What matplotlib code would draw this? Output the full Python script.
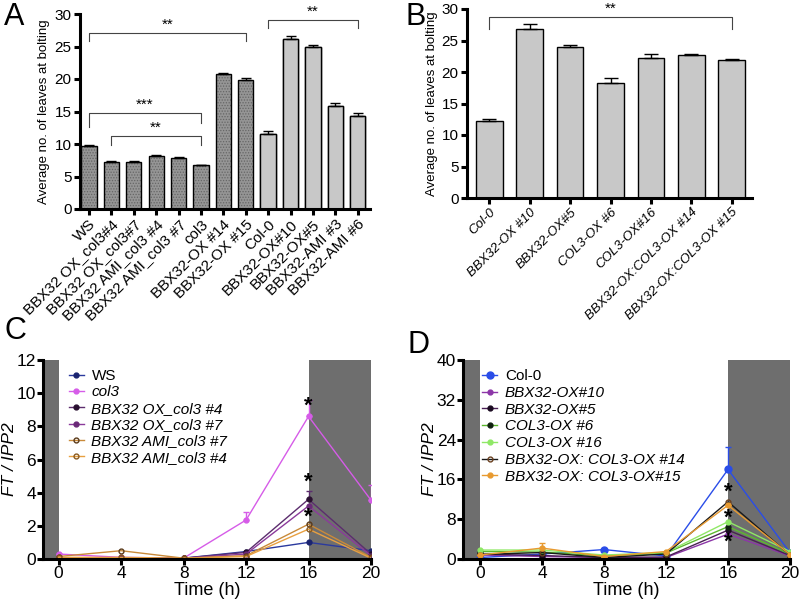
import numpy as np
import matplotlib
matplotlib.use("Agg")
import matplotlib.pyplot as plt

plt.rcParams['font.family'] = ['Liberation Sans', 'DejaVu Sans']
plt.rcParams['hatch.linewidth'] = 0.6

# ---- panel A data ----
a_labels = ['WS', 'BBX32 OX_col3#4', 'BBX32 OX_col3#7', 'BBX32 AMI_col3 #4',
            'BBX32 AMI_col3 #7', 'col3', 'BBX32-OX #14', 'BBX32-OX #15',
            'Col-0', 'BBX32-OX#10', 'BBX32-OX#5', 'BBX32-AMI #3', 'BBX32-AMI #6']
a_vals = [9.7, 7.2, 7.3, 8.1, 7.8, 6.7, 20.7, 19.9, 11.6, 26.2, 24.9, 15.8, 14.3]
a_err = [0.1, 0.2, 0.1, 0.2, 0.2, 0.1, 0.2, 0.2, 0.4, 0.4, 0.3, 0.5, 0.5]
a_dark = 8  # first 8 bars are WS background

# ---- panel B data ----
b_labels = ['Col-0', 'BBX32-OX #10', 'BBX32-OX#5', 'COL3-OX #6', 'COL3-OX#16',
            'BBX32-OX:COL3-OX #14', 'BBX32-OX:COL3-OX #15']
b_vals = [12.2, 26.8, 23.9, 18.3, 22.3, 22.7, 21.9]
b_err = [0.4, 0.8, 0.4, 0.8, 0.6, 0.2, 0.2]

# ---- panel C data ----
hours = [0, 4, 8, 12, 16, 20]
c_names = ['WS', 'col3', 'BBX32 OX_col3 #4', 'BBX32 OX_col3 #7',
           'BBX32 AMI_col3 #7', 'BBX32 AMI_col3 #4']
c_ws = [0.05, 0.05, 0.05, 0.45, 1.0, 0.5]
c_col3 = [0.3, 0.1, 0.05, 2.35, 8.6, 3.55]
c_ox4 = [0.05, 0.05, 0.05, 0.4, 3.6, 0.3]
c_ox7 = [0.05, 0.05, 0.05, 0.3, 3.2, 0.2]
c_ami7 = [0.15, 0.5, 0.05, 0.2, 2.1, 0.1]
c_ami4 = [0.1, 0.1, 0.05, 0.15, 1.8, 0.05]
c_col3_err = [0.0, 0.0, 0.0, 0.5, 1.0, 0.9]
c_ox4_err = [0.0, 0.0, 0.0, 0.0, 0.5, 0.0]
c_stars = [9.2, 4.6, 2.5]

# ---- panel D data ----
d_names = ['Col-0', 'BBX32-OX#10', 'BBX32-OX#5', 'COL3-OX #6', 'COL3-OX #16',
           'BBX32-OX: COL3-OX #14', 'BBX32-OX: COL3-OX#15']
d_col0 = [0.3, 1.0, 1.9, 0.6, 18.0, 1.3]
d_ox10 = [0.8, 0.5, 0.3, 0.3, 5.0, 0.6]
d_ox5 = [1.0, 0.7, 0.3, 0.4, 5.8, 0.7]
d_col6 = [1.5, 1.4, 0.6, 1.2, 6.5, 1.0]
d_col16 = [1.8, 1.8, 0.8, 1.3, 7.5, 1.5]
d_x14 = [0.9, 1.3, 0.3, 1.0, 11.5, 0.8]
d_x15 = [0.8, 2.2, 0.5, 1.5, 10.8, 0.9]
d_col0_err = [0, 0, 0, 0, 4.5, 0]
d_x15_err = [0, 1.1, 0, 0, 0, 0]
d_stars = [13.4, 8.2, 3.4]

fig = plt.figure(figsize=(8.02, 6.07), dpi=100)


def style_axes(ax, lw=2.0):
    for s in ['top', 'right']:
        ax.spines[s].set_visible(False)
    for s in ['left', 'bottom']:
        ax.spines[s].set_linewidth(lw)
    ax.tick_params(width=lw, length=4, direction='out', pad=2)


def bracket(ax, x0, x1, y, h0, h1, text, fs=11):
    ax.plot([x0, x0, x1, x1], [y - h0, y, y, y - h1], color='#444444', lw=0.8)
    ax.text((x0 + x1) / 2, y + 0.2, text, ha='center', va='bottom', fontsize=fs)


# ================= A =================
axA = fig.add_axes([80 / 802, 1 - 209 / 607, 290 / 802, 195 / 607])
xa = np.arange(len(a_vals))
axA.bar(xa[:a_dark], a_vals[:a_dark], width=0.68, color='#959595',
        edgecolor='#666666', hatch='......', linewidth=0)
axA.bar(xa, a_vals, width=0.68, color='none', edgecolor='black', linewidth=1.0)
axA.bar(xa[a_dark:], a_vals[a_dark:], width=0.68, color='#c8c8c8',
        edgecolor='black', linewidth=1.0)
axA.errorbar(xa, a_vals, yerr=[np.zeros(len(a_err)), a_err], fmt='none',
             ecolor='black', elinewidth=1, capsize=3.5, capthick=1)
axA.set_xlim(-0.4, 12.55)
axA.set_ylim(0, 30)
axA.set_yticks(range(0, 31, 5))
axA.set_xticks(xa)
axA.set_xticklabels(a_labels, rotation=45, ha='right', rotation_mode='anchor',
                    fontsize=11)
axA.tick_params(axis='y', labelsize=11)
axA.set_ylabel('Average no. of leaves at bolting', fontsize=9.5, labelpad=3)
style_axes(axA, 2.2)
bracket(axA, 0, 7, 27.1, 1.3, 1.3, '**')
bracket(axA, 8, 12, 29.1, 1.3, 1.3, '**')
bracket(axA, 0, 5, 14.8, 2.2, 1.6, '***')
bracket(axA, 1, 5, 11.2, 1.3, 1.3, '**')

# ================= B =================
axB = fig.add_axes([467 / 802, 1 - 198 / 607, 285 / 802, 189 / 607])
xb = np.arange(len(b_vals))
axB.bar(xb, b_vals, width=0.66, color='#c8c8c8', edgecolor='black', linewidth=1.0)
axB.errorbar(xb, b_vals, yerr=[np.zeros(len(b_err)), b_err], fmt='none',
             ecolor='black', elinewidth=1, capsize=5, capthick=1)
axB.set_xlim(-0.55, 6.5)
axB.set_ylim(0, 30)
axB.set_yticks(range(0, 31, 5))
axB.set_xticks(xb)
axB.set_xticklabels(b_labels, rotation=45, ha='right', rotation_mode='anchor',
                    fontsize=9.5, style='italic')
axB.tick_params(axis='y', labelsize=11)
axB.set_ylabel('Average no. of leaves at bolting', fontsize=9.5, labelpad=3)
style_axes(axB, 2.2)
bracket(axB, 0, 6, 28.7, 1.8, 1.8, '**')


# ================= C / D =================
def line_panel(ax, ymax, step, xmin):
    ax.axvspan(-1.5, 0, color='#6e6e6e', lw=0, zorder=0)
    ax.axvspan(16, 20, color='#6e6e6e', lw=0, zorder=0)
    ax.set_xlim(xmin, 20)
    ax.set_ylim(0, ymax)
    ax.set_xticks(hours)
    ax.set_yticks(np.arange(0, ymax + 1, step))
    style_axes(ax, 2.2)
    ax.tick_params(labelsize=12.5, pad=1)
    ax.set_xlabel('Time (h)', fontsize=13, labelpad=1)
    ax.set_ylabel('FT / IPP2', fontsize=12.5, style='italic', labelpad=0)


axC = fig.add_axes([43 / 802, 1 - 559 / 607, 328 / 802, 199 / 607])
line_panel(axC, 12, 2, -1.0)
c_series = [
    (c_ws, '#2b3a9e', '#1a2470', None),
    (c_col3, '#d65ce8', '#d65ce8', c_col3_err),
    (c_ox4, '#5c2d6e', '#2a1030', c_ox4_err),
    (c_ox7, '#8b3a9b', '#6a2a78', None),
    (c_ami7, '#c98a3a', '#5a3a1a', None),
    (c_ami4, '#e8a040', '#8a5a20', None),
]
handles = []
for (vals, lc, mc, err), name in zip(c_series, c_names):
    if err is not None:
        axC.errorbar(hours, vals, yerr=[np.zeros(6), err], fmt='none',
                     ecolor=lc, capsize=2.5, elinewidth=1.0)
    h, = axC.plot(hours, vals, color=lc, lw=1.0, marker='o', ms=3.5,
                  mfc='none' if 'AMI' in name else mc, mec=mc, mew=1.0,
                  label=name)
    handles.append(h)
legC = axC.legend(handles=handles, loc='upper left', bbox_to_anchor=(0.05, 1.0),
                  frameon=False, fontsize=11, handlelength=1.0,
                  handletextpad=0.5, labelspacing=0.15, borderaxespad=0.2)
for t in legC.get_texts()[1:]:
    t.set_style('italic')
for y in c_stars:
    axC.text(16, y, '*', ha='center', va='center', fontsize=16, fontweight='bold')

axD = fig.add_axes([463 / 802, 1 - 559 / 607, 327 / 802, 199 / 607])
line_panel(axD, 40, 8, -1.1)
d_series = [
    (d_col0, '#2a4de8', '#2a4de8', d_col0_err, 5),
    (d_ox10, '#8c36a8', '#8c36a8', None, 3.5),
    (d_ox5, '#4a1f55', '#1a0a20', None, 3.5),
    (d_col6, '#5cb82e', '#102010', None, 3.5),
    (d_col16, '#8fe866', '#8fe866', None, 3.5),
    (d_x14, '#1a1a1a', '#6a4020', None, 3.5),
    (d_x15, '#e89a30', '#e89a30', d_x15_err, 3.5),
]
handles = []
for (vals, lc, mc, err, ms), name in zip(d_series, d_names):
    if err is not None:
        axD.errorbar(hours, vals, yerr=[np.zeros(6), err], fmt='none',
                     ecolor=lc, capsize=2.5, elinewidth=1.0)
    h, = axD.plot(hours, vals, color=lc, lw=1.0, marker='o', ms=ms,
                  mfc='none' if '#14' in name else mc, mec=mc, mew=1.0,
                  label=name)
    handles.append(h)
legD = axD.legend(handles=handles, loc='upper left', bbox_to_anchor=(0.03, 1.0),
                  frameon=False, fontsize=11, handlelength=1.0,
                  handletextpad=0.5, labelspacing=0.18, borderaxespad=0.2)
for t in legD.get_texts()[1:]:
    t.set_style('italic')
for y in d_stars:
    axD.text(16, y, '*', ha='center', va='center', fontsize=16, fontweight='bold')

# panel letters
for letter, x, y in [('A', 4, 2), ('B', 405, 2), ('C', 4, 316), ('D', 407, 330)]:
    fig.text(x / 802, 1 - y / 607, letter, fontsize=22, ha='left', va='top')

fig.savefig('out.png', dpi=100)
